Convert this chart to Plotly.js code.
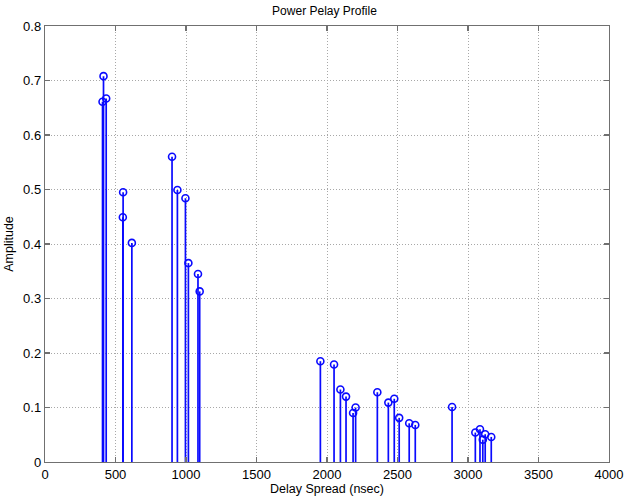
<!DOCTYPE html>
<html>
<head>
<meta charset="utf-8">
<script src="https://cdn.plot.ly/plotly-3.0.1.min.js"></script>
<style>html,body{margin:0;padding:0;background:#fff;}#plot{width:624px;height:500px;}</style>
</head>
<body>
<div id="plot"></div>
<script>
// Delay (nsec) and amplitude of each path
const delays = [408, 415, 434, 552, 554, 616, 901, 939, 996, 1017, 1085, 1097,
  1953, 2050, 2095, 2135, 2185, 2203, 2357, 2435, 2477, 2512, 2583, 2626,
  2887, 3052, 3085, 3105, 3122, 3165];
const amplitudes = [0.661, 0.708, 0.667, 0.449, 0.495, 0.402, 0.560, 0.499, 0.484, 0.365, 0.345, 0.313,
  0.185, 0.179, 0.133, 0.120, 0.090, 0.100, 0.128, 0.109, 0.116, 0.081, 0.071, 0.068,
  0.101, 0.054, 0.060, 0.041, 0.051, 0.046];
const xTicks = [0, 500, 1000, 1500, 2000, 2500, 3000, 3500, 4000];
const yTicks = [0, 0.1, 0.2, 0.3, 0.4, 0.5, 0.6, 0.7, 0.8];

const stemX = [], stemY = [];
delays.forEach((d, i) => { stemX.push(d, d, null); stemY.push(0, amplitudes[i], null); });

const blue = 'rgb(10,10,255)';
const font = {family: 'Liberation Sans, Arial, sans-serif', size: 13, color: '#000'};

const traces = [
  {x: stemX, y: stemY, mode: 'lines', type: 'scatter', line: {color: blue, width: 1.7}, hoverinfo: 'skip', showlegend: false},
  {x: delays, y: amplitudes, mode: 'markers', type: 'scatter',
   marker: {symbol: 'circle-open', size: 7, color: blue, line: {width: 1.6, color: blue}}, showlegend: false}
];

const axisCommon = {
  showline: true, linecolor: '#707070', linewidth: 1.2, mirror: 'ticks',
  ticks: 'inside', ticklen: 5, tickcolor: '#707070', tickwidth: 1.2,
  showgrid: true, gridcolor: '#a8a8a8', griddash: '1px,2px', gridwidth: 1,
  zeroline: false, tickfont: font
};

const layout = {
  width: 624, height: 500,
  margin: {l: 45, r: 15, t: 26, b: 38},
  paper_bgcolor: '#fff', plot_bgcolor: '#fff',
  title: {text: 'Power Pelay Profile', font: {family: font.family, size: 12, color: '#000'}, x: 0.52, xanchor: 'center', y: 0.978, yanchor: 'middle'},
  xaxis: Object.assign({}, axisCommon, {range: [0, 4000], tickvals: xTicks, ticktext: xTicks.map(String),
    title: {text: 'Delay Spread (nsec)', font: {family: font.family, size: 12.5, color: '#000'}, standoff: 3}}),
  yaxis: Object.assign({}, axisCommon, {range: [0, 0.8], tickvals: yTicks, ticktext: yTicks.map(v => v === 0 ? '0' : v.toFixed(1)),
    title: {text: 'Amplitude', font: {family: font.family, size: 12.5, color: '#000'}, standoff: 6}})
};

Plotly.newPlot('plot', traces, layout, {displayModeBar: false, staticPlot: true});
</script>
</body>
</html>
